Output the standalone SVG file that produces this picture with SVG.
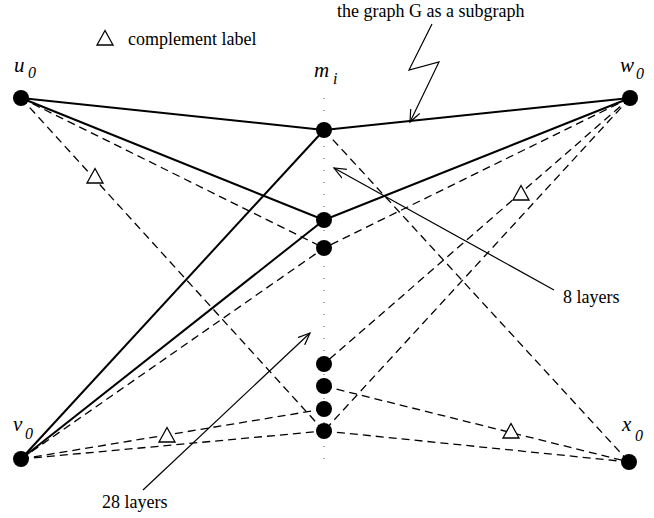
<svg xmlns="http://www.w3.org/2000/svg" width="654" height="518" viewBox="0 0 654 518">
<style>
.t{font-family:"Liberation Serif","Times New Roman",serif;font-size:18px;fill:#000}
.lb{font-family:"Liberation Serif","Times New Roman",serif;font-style:italic;fill:#000}
.big{font-size:21px}
.sub{font-size:16px}
.s{stroke:#000;stroke-width:2;fill:none}
.d{stroke:#000;stroke-width:1.3;fill:none;stroke-dasharray:8 5}
.a{stroke:#000;stroke-width:1.2;fill:none}
.n{fill:#000}
.tri{fill:#fff;stroke:#000;stroke-width:1.3}
</style>
<defs>
<marker id="ah" markerWidth="14" markerHeight="12" refX="12" refY="6" orient="auto" markerUnits="userSpaceOnUse">
<path d="M0,1 L12,6 L0,11" fill="none" stroke="#000" stroke-width="1.2"/>
</marker>
<path id="triangle" d="M0,-7.5 L8,7 L-8,7 Z"/>
</defs>
<rect width="654" height="518" fill="#fff"/>
<line x1="324" y1="98" x2="324" y2="470" stroke="#555" stroke-width="1" stroke-dasharray="1 11"/>
<g id="connectors">
<line class="s" x1="21" y1="98" x2="324" y2="130"/>
<line class="s" x1="324" y1="130" x2="630" y2="98"/>
<line class="s" x1="21" y1="98" x2="324" y2="220"/>
<line class="s" x1="324" y1="220" x2="630" y2="98"/>
<line class="s" x1="21" y1="459" x2="324" y2="130"/>
<line class="s" x1="21" y1="459" x2="324" y2="220"/>
<line class="d" x1="21" y1="98" x2="324" y2="248"/>
<line class="d" x1="21" y1="98" x2="324" y2="431"/>
<line class="d" x1="630" y1="98" x2="324" y2="248"/>
<line class="d" x1="630" y1="98" x2="324" y2="364"/>
<line class="d" x1="630" y1="98" x2="324" y2="431"/>
<line class="d" x1="324" y1="130" x2="629" y2="462"/>
<line class="d" x1="21" y1="459" x2="324" y2="248"/>
<line class="d" x1="21" y1="459" x2="324" y2="409"/>
<line class="d" x1="21" y1="459" x2="324" y2="431"/>
<line class="d" x1="324" y1="386" x2="629" y2="462"/>
<line class="d" x1="324" y1="431" x2="629" y2="462"/>
<use href="#triangle" class="tri" x="95" y="176"/>
<use href="#triangle" class="tri" x="521" y="193"/>
<use href="#triangle" class="tri" x="167" y="435"/>
<use href="#triangle" class="tri" x="511" y="431"/>
<polyline class="a" points="432,24 409,70 439,62 410,122" marker-end="url(#ah)"/>
<line class="a" x1="554" y1="290" x2="334" y2="168" marker-end="url(#ah)"/>
<line class="a" x1="143" y1="490" x2="310" y2="333" marker-end="url(#ah)"/>
</g>
<g id="legend">
<use href="#triangle" class="tri" x="105" y="38"/>
<text class="t" x="128" y="45">complement label</text>
</g>
<g id="subgraph-label"><text class="t" x="337" y="17">the graph G as a subgraph</text></g>
<g id="layers8"><text class="t" x="563" y="303">8 layers</text></g>
<g id="layers28"><text class="t" x="102" y="508">28 layers</text></g>
<g id="u0"><circle class="n" cx="21" cy="98" r="8"/><text class="lb big" x="14" y="72">u</text><text class="lb sub" x="28" y="78">0</text></g>
<g id="w0"><circle class="n" cx="630" cy="98" r="8"/><text class="lb big" x="620" y="72">w</text><text class="lb sub" x="636" y="79">0</text></g>
<g id="v0"><circle class="n" cx="21" cy="459" r="8"/><text class="lb big" x="13" y="431">v</text><text class="lb sub" x="25" y="439">0</text></g>
<g id="x0"><circle class="n" cx="629" cy="462" r="8"/><text class="lb big" x="622" y="431">x</text><text class="lb sub" x="635" y="441">0</text></g>
<g id="mi-label"><text class="lb big" x="314" y="77">m</text><text class="lb sub" x="333" y="84">i</text></g>
<g id="m1"><circle class="n" cx="324" cy="130" r="8"/></g>
<g id="m2"><circle class="n" cx="324" cy="220" r="8"/></g>
<g id="m3"><circle class="n" cx="324" cy="248" r="8"/></g>
<g id="m4"><circle class="n" cx="324" cy="364" r="8"/></g>
<g id="m5"><circle class="n" cx="324" cy="386" r="8"/></g>
<g id="m6"><circle class="n" cx="324" cy="409" r="8"/></g>
<g id="m7"><circle class="n" cx="324" cy="431" r="8"/></g>
</svg>
